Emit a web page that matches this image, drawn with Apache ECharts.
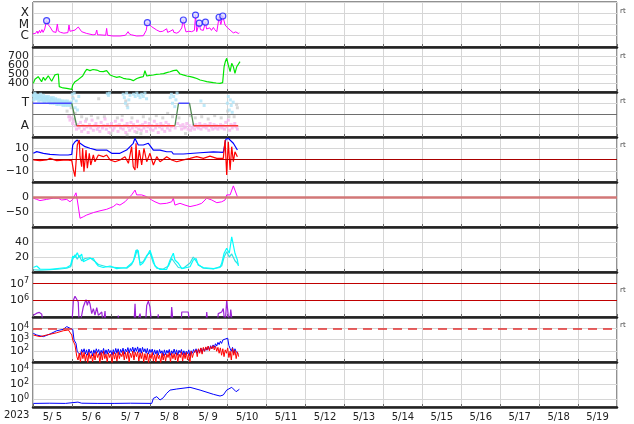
<!DOCTYPE html>
<html><head><meta charset="utf-8">
<script src="https://cdn.jsdelivr.net/npm/echarts@6/dist/echarts.min.js"></script>
<style>html,body{margin:0;padding:0;background:#fff}#c{width:634px;height:424px}</style>
</head><body><div id="c"></div>
<script>
// ---------- time axis: hours since 2023-05-05 00:00 UT ----------
const yearLabel = '2023';
const dayLabels = ['5/ 5','5/ 6','5/ 7','5/ 8','5/ 9','5/10','5/11','5/12','5/13','5/14','5/15','5/16','5/17','5/18','5/19'];

// ---------- panel 1: X-ray flux ----------
const xrsHour = [0,1.5,2.5,3,4,4.6,5.5,6.2,7.2,8.4,9.3,10.5,12.3,14.2,15,15.6,17,19,21.5,22.2,22.8,24,25.9,27.9,29,30,33.1,37,38.5,39.3,39.8,41.3,44.8,45.4,45.9,49.3,53.6,57,58.6,59.5,60.8,63.9,68,69.8,70.5,71.5,73.2,76.3,78.3,80,81,82.4,83,84.5,86.3,86.8,88.6,90,91.7,92.7,93.5,94.3,96,97.8,99.5,100.2,100.9,101.8,102.5,103.2,104,105,106.3,107,108.1,109,110,111.2,112,113.3,114.7,115.8,117,118.4,120,121.5,123.5,125,126.6,127.2];
const xrsFlux = [1.5e-6,1.6e-6,2.6e-6,1.6e-6,3.0e-6,1.8e-6,3.5e-6,2.0e-6,4e-6,2.2e-5,1.0e-5,6e-6,2.3e-6,2.0e-6,1.1e-5,2.6e-6,2.0e-6,1.7e-6,1.9e-6,9.0e-6,2.5e-6,2.2e-6,3.2e-6,6.0e-6,4.5e-6,2.3e-6,1.6e-6,1.2e-6,1.3e-6,3.2e-6,1.2e-6,1.2e-6,1.1e-6,4.5e-6,1.1e-6,9.5e-7,9.5e-7,1.1e-6,2.3e-6,1.4e-6,1.2e-6,9.5e-7,1.0e-6,3e-6,1.45e-5,1.0e-5,6.3e-6,3.2e-6,2.3e-6,2.5e-6,1.9e-6,4.2e-6,2.0e-6,2.5e-6,3.5e-6,2.0e-6,1.7e-6,2.2e-6,4.9e-6,2.5e-5,6e-6,2.2e-6,2.5e-6,2.3e-6,3e-6,6.9e-5,2.3e-6,3e-6,1.3e-5,3.5e-6,4.9e-6,3e-6,1.6e-5,4e-6,3.2e-6,5e-6,3e-6,5.5e-6,3.5e-6,2.3e-6,4.4e-5,1.0e-5,5.7e-5,9.1e-6,5e-6,3.2e-6,1.8e-6,2.2e-6,1.6e-6,1.8e-6];
const flareHour = [8.4,70.5,92.7,100.2,102.5,106.3,114.7,117];
const flareFlux = [2.2e-5,1.45e-5,2.5e-5,6.9e-5,1.3e-5,1.6e-5,4.4e-5,5.7e-5];
const classTicks = {'-4':'X','-5':'M','-6':'C'};

// ---------- panel 2: solar wind speed ----------
const speedHour = [0.2,1.2,2.3,3.2,4.3,5.3,6.4,7.4,8.4,9.4,10.5,11.5,12.5,13.5,14.6,15.6,16.2,16.6,18.5,20.8,23.9,24.5,25.2,25.9,27.1,28,29.0,30.6,32.1,33.1,35.1,37,39.3,41,43.3,45.4,47.5,49.5,51.6,53.5,55.7,57.5,59.8,61.8,64,66.0,68,69.0,70.1,72,74.2,76,78.3,80.5,82.4,84.5,86.5,88.6,90.6,92.5,94.8,97,98.8,101,103.0,105,107.1,109,111.2,113,115.3,116.9,117.8,118.6,119.4,120.4,121,121.5,122.5,123.5,124.5,125.6,126.6,127.6];
const speedVal = [396,441,422,470,452,415,463,430,415,480,463,420,441,490,478,500,359,352,345,341,330,378,400,415,404,440,452,478,526,552,537,550,544,530,526,537,489,475,463,470,452,445,441,426,450,463,470,537,478,485,489,495,500,505,515,525,537,544,500,490,478,470,463,450,433,425,415,410,404,400,396,404,581,640,674,600,560,526,619,581,507,581,560,637];

// ---------- panel 3: IMF sector ----------
const towardHour = [0.2,0.8,1.4,2.0,2.6,3.2,3.8,4.4,5.0,5.6,6.2,6.8,7.4,8.0,8.6,9.2,9.8,10.4,11.0,11.6,12.2,12.8,13.4,14.0,14.6,15.2,15.8,16.4,17.0,17.6,18.2,18.8,19.4,20.0,20.6,21.2,21.8,22.4,23.0,23.6,
 0.5,1.1,1.7,2.3,2.9,3.5,4.1,4.7,5.3,5.9,6.5,7.1,7.7,8.3,8.9,9.5,10.1,10.7,11.3,11.9,12.5,13.1,13.7,14.3,14.9,15.5,16.1,16.7,17.3,17.9,18.5,19.1,19.7,20.3,20.9,21.5,22.1,22.7,23.3,23.9,
 24.2,24.8,25.4,26.0,26.6,27.4,28.2,45.8,46.5,47.2,55.6,56.3,57.0,57.7,58.4,59.1,59.8,62.0,63.0,64.0,65.0,66.0,67.0,68.0,69.0,70.0,84.6,85.3,86.0,86.7,87.4,88.1,88.8,103.5,105.5,119.8,120.4,121.0,121.6,122.2,122.8,123.4];
const towardVal = [1.7,1.5,1.8,1.6,1.4,1.7,1.5,1.3,1.6,1.4,1.2,1.5,1.3,1.6,1.2,1.4,1.1,1.3,1.5,1.2,1.0,1.3,1.1,1.4,0.9,1.2,1.0,1.3,0.9,1.1,1.2,0.9,1.1,0.8,1.0,1.2,0.9,1.0,0.8,1.1,
 1.3,1.9,1.4,1.7,1.5,1.2,1.6,1.8,1.3,1.5,1.7,1.1,1.4,1.3,1.5,1.6,1.2,1.0,1.4,1.3,1.5,1.0,1.2,1.1,1.3,0.9,1.1,1.0,1.2,1.0,0.8,1.0,1.2,0.9,1.1,0.8,1.0,1.1,0.9,1.0,
 1.8,1.4,1.9,0.6,1.2,0.4,1.6,1.85,1.7,1.9,1.8,1.5,1.0,1.9,0.6,1.3,1.7,1.8,1.6,1.9,1.7,1.5,1.8,1.6,1.9,1.4,1.5,1.8,1.0,1.6,0.7,1.3,1.9,1.2,0.8,1.0,1.6,0.4,1.3,0.8,0.2,1.1];
const awayStartHour = 22, awayStepHour = 0.8;
const awayVal = [-0.2,-0.5,-0.3,-0.8,-0.6,-1.0,-1.3,-0.9,
 -1.2,-0.7,-1.5,-1.0,-1.3,-0.6,-1.1,-1.6,
 -0.9,-1.2,-0.5,-1.4,-1.0,-0.8,-1.3,-1.1,
 -1.5,-0.7,-1.2,-1.0,-0.4,-1.3,-0.9,-1.6,
 -1.1,-0.8,-1.4,-1.2,-0.6,-1.0,-1.5,-0.9,
 -1.2,-0.5,-1.3,-1.0,-1.6,-0.8,-1.1,-1.4,
 -0.7,-1.2,-0.9,-1.5,-1.1,-0.6,-1.3,-1.0,
 -1.4,-0.9,-1.2,-0.7,-1.5,-1.1,-0.8,-1.3,
 -1.0,-1.4,-0.6,-1.2,-0.9,-1.6,-1.1,-0.8,
 -1.3,-1.0,-1.5,-0.7,-1.2,-0.9,-1.4,-1.1,
 null,null,-1.2,null,-0.8,null,-1.0,-1.3,
 -0.9,-1.2,-1.1,-0.8,-1.3,-1.0,-1.4,-1.2,
 -1.0,-1.3,-0.9,-1.1,-1.2,-0.8,-1.3,-1.0,
 -1.1,-0.9,-1.2,-1.0,-1.4,-0.8,-1.1,-1.3,
 -0.9,-1.2,-1.0,-1.3,-1.1,-0.9,-1.2,-1.0,
 -1.3,-0.7,-1.1,-0.5,-1.4,-0.9,-1.2,-1.0,
 -0.8,-1.1,-1.3];
const grayHour = [21,22.5,23.5,24.5,25.3,26,30,33,36,40,44,48,52,55,58,61,64,68,72,76,80,83,86,90,94,97,100,104,108,112,116,120,124,126,40.5,57.2,58,66.5,120.8,125.5];
const grayVal = [0.3,-0.2,0.6,1.5,-0.4,0.1,-0.2,-0.4,-0.1,-0.3,-0.2,-1.7,-0.3,-0.1,0.8,-0.3,-1.6,-0.2,-0.4,-0.1,-0.3,0.1,-0.2,-0.3,-1.7,-0.1,-0.3,-0.2,-0.4,-0.1,-0.3,0.3,-0.2,0.6,1.4,1.2,-1.8,-1.7,-0.2,0.9];
const sectorHour = [0,23.9,26.9,87.5,89.7,96.5,99,126.5];
const sectorVal = [1,1,-1,-1,1,1,-1,-1];
const sectorTicks = {'1':'T','-1':'A'};

// ---------- panel 4: IMF Bt / Bz ----------
const btHour = [0.2,2.3,6.4,10.5,16.6,21.7,23.9,24.5,25.9,27.3,29,32.1,35.1,39.3,45.4,48.5,53.6,57.7,61.8,62.8,64.9,68,71.1,74.2,78.3,82.4,85.5,86.5,92.7,103,111.2,117.3,118.9,120.4,123.5,126];
const btVal = [5.5,7,5.5,4.6,4,4,4.6,12.9,15.8,17.3,14.4,11.4,10,8.4,8.4,5.5,5.5,8.4,14.4,18.8,12.9,12.9,14.4,8.4,8.4,6.9,6.9,4.9,4.9,6,6.7,6.4,18,18.8,14.4,8.4];
const bzHour = [0.2,4.3,8.4,10.5,14.6,20.8,23.9,24.9,25.9,27.0,27.3,28.5,29,30,30.6,31.4,32.7,33.5,34.7,35.6,37.2,38.2,40.3,43.3,45.4,47.5,50.6,53.6,56.7,58.8,60.8,61.8,62.9,63.5,64.3,65.5,67,68.4,70.1,72.1,74.2,76.3,78.3,80.3,82.4,85.5,88.6,92.7,96.8,100.9,105,109.1,113.3,117.3,118.4,119.4,120.4,121.5,122.5,123.5,124.5,126];
const bzVal = [-0.4,-1,-0.4,1,-1,-0.4,-1,-9.3,-15.3,-13.8,12.9,17.3,2.5,-6.4,10,-10.8,8.4,-7.8,5.5,-4.9,4,-2,4,2.5,4,-0.4,-2,-0.4,2.5,-3.4,11.4,-6.4,-9.3,14.4,-7.8,8.4,-4.9,10,-2,5.5,-4.9,2.5,-2,0,2.5,-0.4,-2,-0.4,1,2.5,1,3,1,1,17.3,-13.8,15.8,-9.3,11.4,-2,6.9,2.5];

// ---------- panel 5: Dst ----------
const dstHour = [0.2,2.3,4.3,8.4,12.5,15.6,17.7,20.8,22.8,24.5,26.5,27.3,29,31,33.1,37.2,41.3,45.4,49.5,51.6,53.6,56.7,58.8,60.8,62.9,63.9,67,70.1,73.2,75.2,78.3,82.4,85.5,86.5,87.5,90.6,93.7,96.8,100.9,104,107.1,108.1,110.2,113.3,116.3,118.4,119.4,121.5,123.5,126];
const dstVal = [-4,-8,-12,-8,-4,-4,-10,-8,-16,-8,14,-10,-71,-66,-60,-52,-46,-41,-32,-23,-27,-16,-4,7,23,7,7,1,-10,-16,-23,-21,-16,-4,-27,-21,-27,-32,-27,-21,-4,1,-10,-19,-16,-10,7,7,37,1];

// ---------- panel 6: two cyan traces ----------
const cyanAHour = [0.2,2.3,4.3,10.5,20.8,23.2,24.5,25.9,27.3,28.5,30,31,33.1,35.1,37.2,38.8,40.3,43.3,47.5,51.6,57.8,61.8,63.5,64.9,66,67.6,69,72.1,73.8,75.2,78.3,82.4,84.5,86.5,87.5,89.6,91.7,96.8,98.8,100.5,101.9,105,111.2,115.3,116.3,117.8,119.4,121,122.5,123.5,124.5,126,126.6];
const cyanAVal = [6,8,4,3.6,6,9,21,19.5,25.7,19.5,24,13.8,16,18,18,12,8,6,8,4.5,6,13.8,29,28.4,9,11.6,16,29,18,8,3.3,3.5,16,25,16,11.6,4.5,7,16,18,9,6,4.5,6,11.6,25,31.6,25,47,48,25,16,8];
const cyanBHour = [0.2,4.3,10.5,16.6,20.8,23.2,24.5,25.9,27.3,28.5,30,32.1,35.1,38.2,40.3,45.4,51.6,57.8,60.8,62.9,64.3,66,68,70.1,72.1,74.2,76.3,80.3,83.5,85.5,87.5,89.6,92.7,96.8,98.8,101.9,105,111.2,116.3,117.8,119.4,121,122.5,124.5,126.6];
const cyanBVal = [3,2.5,3,4,5,7,17,23,17,22,15,18,19,14,10,7,6,5,10,20,30,12,14,22,26,12,5,4,8,18,12,6,5,12,20,10,5,4,8,20,27,20,24,15,10];

// ---------- panel 7: electron flux ----------
const elecHour = [0.2,2.3,3.9,5.4,6.4,23.9,24.9,25.9,27,27.9,28.5,30,31,32.1,32.7,33.5,34.3,35.1,36.2,37.2,38.2,39.3,40.3,41.3,42.4,43.3,44.4,45,52,52.6,53.2,62.2,62.9,63.5,66,67,69.3,70.1,71.1,72.1,73.2,76.6,77.2,77.8,84.9,85.5,86.5,91.2,91.7,93.7,95.7,96.8,106.5,107.1,107.8,113.6,114.2,116.3,117.3,118.4,118.9,119.4,120,121,121.9,123.1];
const elecVal = [1.26e5,1.7e5,1.9e5,1.45e5,3e4,3e4,1e6,1.74e6,1.58e6,7.9e5,3e4,1.26e5,4e5,7.9e5,1.1e6,5e5,1e6,6.3e5,1.6e5,3.2e5,1.3e5,3.6e5,1.26e5,1.4e5,2e5,3e4,2.3e5,3e4,3e4,1.2e5,3e4,3e4,6.3e5,3e4,1.6e5,3e4,3e4,5e5,9e5,4e5,3e4,3e4,1.45e5,3e4,3e4,4e5,3e4,3e4,2e5,2e5,2e5,3e4,3e4,2e5,3e4,3e4,1.6e5,2e5,3.2e5,3e4,3e4,1e6,9e5,3e4,2.8e5,3e4];
const elecLines = [1e6, 1e7];

// ---------- panel 8: particle flux (blue / red) ----------
const p8BlueHour = [0.2,2.3,6.4,10.5,14.6,18.7,20.8,22.8,24.5,25.3,26.5,27.3];
const p8BlueVal = [3.5e3,2.5e3,1.8e3,3.1e3,6e3,8e3,1.4e4,1e4,8e3,900,460,80];
const p8RedHour = [0.2,4.3,8.4,14.6,18.7,21.8,23.9,24.5,25.9,27];
const p8RedVal = [2.5e3,1.8e3,2.5e3,4e3,6e3,7e3,2.5e3,900,320,30];
const noiseStartHour = 27.75, noiseStepHour = 0.75;
const p8BlueNoise = [60,110,45,130,70,150,50,120, 40,140,60,100,35,120,55,150, 70,130,40,110,60,160,45,120, 50,140,65,105,40,125,55,160,
 60,150,45,130,70,170,50,140, 80,190,60,160,90,210,70,180, 90,220,70,170,60,200,80,150, 60,160,50,130,70,140,45,120,
 50,110,40,130,60,100,35,120, 45,110,60,130,40,100,55,140, 50,120,40,110,65,130,45,100, 40,90,55,120,35,100,60,130,
 70,150,60,140,80,170,70,160, 90,200,110,240,120,280,150,330, 200,420,260,550,350,700,450,900, 600,1100,900,1300,300,160,90,200,
 60,150,80,110,50];
const p8RedNoise = [15,60,10,80,20,70,12,50, 8,70,20,45,10,60,15,80, 25,55,8,70,15,90,20,50, 10,65,25,50,8,75,18,60,
 12,80,20,55,30,90,15,70, 20,85,10,60,25,95,15,75, 30,80,12,65,20,70,10,55, 15,60,8,50,20,70,12,45,
 10,55,20,40,8,60,15,50, 12,50,25,70,10,60,20,55, 15,65,10,50,25,80,12,60, 20,70,15,55,10,90,25,60,
 40,120,30,150,60,180,50,200, 90,220,120,260,100,240,150,280, 120,250,90,200,60,180,40,150, 30,120,60,180,25,90,15,160,
 40,110,20,80,30];
const p8Threshold = 1e4;

// ---------- panel 9 ----------
const p9Hour = [0.2,10,20,27.7,30,40,50,60,73.2,74.2,76.3,78.3,80.3,82.4,84.5,88.6,96.8,103,111.2,115.3,117.3,119.4,122.5,123.5,125.2,127.2];
const p9Val = [0.3,0.32,0.3,0.45,0.32,0.3,0.3,0.32,0.3,1.4,2.4,0.85,1.7,6.7,18,25,42,18,4.9,2.9,4,18,42,30,11,23];

// ================= build chart =================
const FONT = 'DejaVu Sans';
const zip = (a, b) => a.map((t, i) => [t, b[i]]);
const N = 9, LEFT = 33, RIGHT = 17, TOP = 2, H = 45, DAY = 24;
const grids = [], xAxes = [], yAxes = [], series = [], graphics = [];
for (let i = 0; i < N; i++) {
  const last = i === N - 1;
  grids.push({left: LEFT, right: RIGHT, top: TOP + H * i, height: H, show: true, borderColor: '#222', borderWidth: 1, backgroundColor: 'rgba(0,0,0,0)'});
  xAxes.push({type: 'value', gridIndex: i, min: 0, max: 360, interval: DAY, minInterval: DAY, maxInterval: DAY, splitNumber: 15,
    axisLabel: last ? {show: true, fontFamily: FONT, fontSize: 10, color: '#222', margin: 5,
      padding: [0, 0, 0, 39], showMaxLabel: false,
      formatter: v => dayLabels[Math.round(v / DAY)] || ''} : {show: false},
    axisLine: {show: true, onZero: false, lineStyle: {color: '#222', width: 2.5}},
    axisTick: {show: true, inside: true, length: 3, lineStyle: {color: '#666'}},
    splitLine: {show: true, lineStyle: {color: '#d6d6d6', width: 1}},
    minorTick: {show: false}, minorSplitLine: {show: false}});
}

const lab = (extra) => Object.assign({fontFamily: FONT, fontSize: 11, color: '#222', margin: 4}, extra);
const split = {show: true, lineStyle: {color: '#d6d6d6', width: 1}};
const powRich = {b: {fontFamily: FONT, fontSize: 11, color: '#222'}, s: {fontFamily: FONT, fontSize: 8, color: '#222', verticalAlign: 'top', padding: [0, 0, 5, 0]}};
const powFmt = (allowed) => (v) => {
  const e = Math.log10(v), r = Math.round(e);
  if (Math.abs(e - r) > 0.01 || allowed.indexOf(r) < 0) return '';
  return '{b|10}{s|' + r + '}';
};
const yBase = (i, o) => Object.assign({gridIndex: i, axisLine: {show: false}, axisTick: {show: false}, splitLine: split}, o);

yAxes.push(yBase(0, {type: 'log', min: 1e-7, max: 1e-3,
  axisLabel: lab({fontSize: 12, showMinLabel: false, showMaxLabel: false, formatter: v => classTicks[String(Math.round(Math.log10(v)))] || ''})}));
yAxes.push(yBase(1, {type: 'value', min: 300, max: 800, interval: 100,
  axisLabel: lab({showMinLabel: false, showMaxLabel: false})}));
yAxes.push(yBase(2, {type: 'value', min: -2, max: 2, interval: 1,
  axisLabel: lab({fontSize: 12, formatter: v => sectorTicks[String(v)] || ''})}));
yAxes.push(yBase(3, {type: 'value', min: -20, max: 20, interval: 10,
  axisLabel: lab({showMinLabel: false, showMaxLabel: false, formatter: v => v < 0 ? '\u2212' + (-v) : String(v)})}));
yAxes.push(yBase(4, {type: 'value', min: -100, max: 50, interval: 50,
  axisLabel: lab({showMinLabel: false, showMaxLabel: false, formatter: v => v < 0 ? '\u2212' + (-v) : String(v)})}));
yAxes.push(yBase(5, {type: 'value', min: 0, max: 60, interval: 20,
  axisLabel: lab({showMinLabel: false, showMaxLabel: false})}));
yAxes.push(yBase(6, {type: 'log', min: 1e5, max: 5e7,
  axisLabel: lab({showMinLabel: false, showMaxLabel: false, formatter: powFmt([6, 7]), rich: powRich})}));
yAxes.push(yBase(7, {type: 'log', min: 10, max: 1e5,
  axisLabel: lab({showMinLabel: false, showMaxLabel: false, formatter: powFmt([2, 3, 4]), rich: powRich})}));
yAxes.push(yBase(8, {type: 'log', logBase: 100, min: 0.1, max: 1e5,
  axisLabel: lab({showMinLabel: false, showMaxLabel: false, formatter: powFmt([0, 2, 4]), rich: powRich})}));

const line = (i, data, color, width, extra) => Object.assign({type: 'line', xAxisIndex: i, yAxisIndex: i, data: data,
  showSymbol: false, symbol: 'none', lineStyle: {color: color, width: width || 1}, itemStyle: {color: color}, animation: false, silent: true}, extra || {});
const hline = (vals, color, width, type) => ({silent: true, symbol: 'none', label: {show: false},
  lineStyle: {color: color, width: width, type: type || 'solid'}, data: vals.map(v => ({yAxis: v}))});

// panel 1
series.push(line(0, zip(xrsHour, xrsFlux), '#ff00ff', 1));
series.push({type: 'scatter', xAxisIndex: 0, yAxisIndex: 0, data: zip(flareHour, flareFlux), symbol: 'circle', symbolSize: 6,
  itemStyle: {color: '#dcdcff', borderColor: '#1a1aff', borderWidth: 1.2}, z: 5, silent: true, animation: false});
// panel 2
series.push(line(1, zip(speedHour, speedVal), '#00e600', 1.2));
// panel 3
const dot = (data, color) => ({type: 'scatter', xAxisIndex: 2, yAxisIndex: 2, data: data, symbol: 'rect', symbolSize: 3,
  itemStyle: {color: color}, silent: true, animation: false, z: 1});
const awayData = awayVal.map((v, k) => [awayStartHour + awayStepHour * k, v]).filter(p => p[1] !== null);
series.push(dot(zip(grayHour, grayVal), '#cdcdcd'));
series.push(dot(zip(towardHour, towardVal), '#aee4f7'));
series.push(dot(awayData, '#f6b6ef'));
for (let k = 0; k < sectorHour.length - 1; k++) {
  const a = sectorVal[k], b = sectorVal[k + 1];
  const col = (a === b) ? (a > 0 ? '#4a4aff' : '#ff3a3a') : '#4f8a4f';
  series.push(line(2, [[sectorHour[k], a], [sectorHour[k + 1], b]], col, 1.3, {z: 3}));
}
series[series.length - 1].markLine = hline([0], '#6e6e6e', 1);
// panel 4
series.push(line(3, zip(btHour, btVal), '#0000ff', 1.2));
series.push(line(3, zip(bzHour, bzVal), '#ff0000', 1.2, {markLine: hline([0], '#aa0000', 1)}));
// panel 5
series.push(line(4, zip(dstHour, dstVal), '#ff00ff', 1, {markLine: hline([0], '#d27777', 2.5)}));
// panel 6
series.push(line(5, zip(cyanBHour, cyanBVal), '#33e0e0', 1.2));
series.push(line(5, zip(cyanAHour, cyanAVal), '#00ffff', 1.2));
// panel 7
series.push(line(6, zip(elecHour, elecVal), '#9b22d6', 1.2, {markLine: hline(elecLines, '#c00000', 1.2)}));
// panel 8
const noiseHours = p8BlueNoise.map((_, k) => noiseStartHour + noiseStepHour * k);
series.push(line(7, zip(p8BlueHour, p8BlueVal).concat(zip(noiseHours, p8BlueNoise)), '#0000ff', 1));
series.push(line(7, zip(p8RedHour, p8RedVal).concat(zip(noiseHours, p8RedNoise)), '#ff0000', 1,
  {markLine: hline([p8Threshold], '#e23030', 1.5, [9, 6])}));
// panel 9
series.push(line(8, zip(p9Hour, p9Val), '#0000ff', 1));

// texts
graphics.push({type: 'text', left: 4, top: 410, style: {text: yearLabel, fontFamily: FONT, fontSize: 10, fill: '#222'}});
[8, 53, 98, 142, 287, 322].forEach(y => graphics.push({type: 'text', left: 620, top: y, style: {text: 'rt', fontFamily: FONT, fontSize: 7, fill: '#444'}}));

const chart = echarts.init(document.getElementById('c'), null, {renderer: 'canvas'});
chart.setOption({animation: false, backgroundColor: '#fff', grid: grids, xAxis: xAxes, yAxis: yAxes, series: series, graphic: graphics});
</script></body></html>
